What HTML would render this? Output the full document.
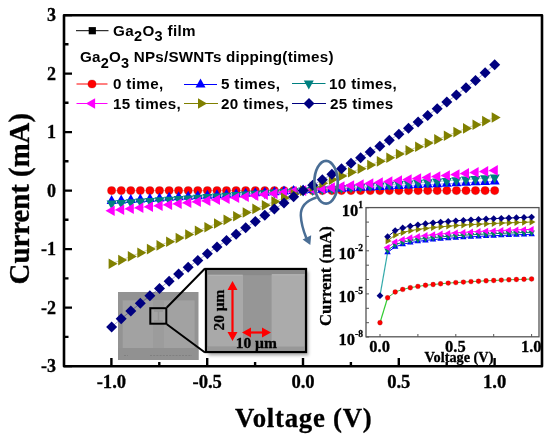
<!DOCTYPE html><html><head><meta charset="utf-8"><style>html,body{margin:0;padding:0;background:#fff;width:550px;height:442px;overflow:hidden}svg{display:block;will-change:transform}.s{font-family:"Liberation Serif",serif;font-weight:bold;stroke:#000;stroke-width:0.3px}.a{font-family:"Liberation Sans",sans-serif;font-weight:bold}</style></head><body>
<svg width="550" height="442" viewBox="0 0 550 442">
<rect width="550" height="442" fill="#fff"/>
<g>
<rect x="118" y="292" width="80.5" height="68" fill="#939393"/>
<rect x="122.5" y="300" width="72" height="48" fill="#9c9c9c"/>
<rect x="123" y="301" width="30" height="47" fill="#a2a2a2"/>
<rect x="164" y="301" width="30.5" height="47" fill="#a2a2a2"/>
<rect x="118" y="348" width="80.5" height="12" fill="#919191"/>
<path d="M124 355.5h4M150 355.5h42" stroke="#808080" stroke-width="1.2" stroke-dasharray="2 1.2"/>
<rect x="150.3" y="308.2" width="16" height="15.5" fill="#a4a4a4" stroke="#000" stroke-width="2"/>
<path d="M154 311h9M158.5 311v10M154 321h9" stroke="#959595" stroke-width="1.5" fill="none"/>
<path d="M166.8 307.5L205 268.5M166.8 324.2L205 352.5" stroke="#000" stroke-width="2" fill="none"/>
</g>
<g>
<defs><filter id="sh" x="-20%" y="-20%" width="140%" height="140%"><feGaussianBlur stdDeviation="1.8"/></filter></defs>
<rect x="208.5" y="271.5" width="100" height="84" fill="#b0b0b0" filter="url(#sh)"/>
<rect x="206" y="269" width="100" height="83" fill="#969696" stroke="#000" stroke-width="2.3"/>
<rect x="207.2" y="270.2" width="97.6" height="5" fill="#8a8a8a"/>
<rect x="207.5" y="274.8" width="35.5" height="71.8" fill="#a9a9a9"/>
<rect x="271.6" y="274.3" width="33" height="72.5" fill="#ababab"/>
<path d="M208 275.3H242.5M272 274.8H304.5" stroke="#b5b5b5" stroke-width="1"/>
<rect x="207.2" y="346.8" width="97.6" height="4" fill="#989898"/>
</g>
<g fill="#ff0000" stroke="#ff0000">
<path d="M232.5 287V335" stroke-width="2.2"/>
<path d="M232.5 281L227.5 290L237.5 290Z M232.5 341L227.5 332L237.5 332Z" stroke="none"/>
<path d="M248 332.5H265" stroke-width="2.2"/>
<path d="M242 332.5L251 327.5L251 337.5Z M271 332.5L262 327.5L262 337.5Z" stroke="none"/>
</g>
<text class="s" font-size="15.4" transform="translate(223.6 330.5) rotate(-90)" fill="#000">20 µm</text>
<text class="s" font-size="15.5" x="235.7" y="348.2" fill="#000">10 µm</text>
<path d="M64 15.2H542V366.2H64Z" fill="none" stroke="#000" stroke-width="2.6" stroke-linejoin="round"/>
<path d="M64 366.1H72 M64 307.6H72 M64 249.1H72 M64 190.6H72 M64 132.1H72 M64 73.6H72 M64 15.1H72 M64 336.9H68.5 M64 278.4H68.5 M64 219.8H68.5 M64 161.3H68.5 M64 102.8H68.5 M64 44.3H68.5 M111.4 366.2V358 M159.3 366.2V362 M207.2 366.2V358 M255.1 366.2V362 M303.0 366.2V358 M350.9 366.2V362 M398.8 366.2V358 M446.7 366.2V362 M494.6 366.2V358" stroke="#000" stroke-width="2.4" fill="none"/>
<text class="s" font-size="18" text-anchor="end" x="56" y="372.0">-3</text>
<text class="s" font-size="18" text-anchor="end" x="56" y="313.5">-2</text>
<text class="s" font-size="18" text-anchor="end" x="56" y="255.0">-1</text>
<text class="s" font-size="18" text-anchor="end" x="56" y="196.5">0</text>
<text class="s" font-size="18" text-anchor="end" x="56" y="138.0">1</text>
<text class="s" font-size="18" text-anchor="end" x="56" y="79.5">2</text>
<text class="s" font-size="18" text-anchor="end" x="56" y="21.0">3</text>
<text class="s" font-size="18.6" text-anchor="middle" x="111.4" y="388">-1.0</text>
<text class="s" font-size="18.6" text-anchor="middle" x="207.2" y="388">-0.5</text>
<text class="s" font-size="18.6" text-anchor="middle" x="303.0" y="388">0.0</text>
<text class="s" font-size="18.6" text-anchor="middle" x="398.8" y="388">0.5</text>
<text class="s" font-size="18.6" text-anchor="middle" x="494.6" y="388">1.0</text>
<text class="s" font-size="28.8" transform="translate(28.8 284.4) rotate(-90)">Current (mA)</text>
<text class="s" font-size="26.8" letter-spacing="0.75" x="235" y="427.3">Voltage (V)</text>
<path d="M111.6 190.6 L121.2 190.6 L130.8 190.6 L140.3 190.6 L149.9 190.6 L159.5 190.6 L169.1 190.6 L178.6 190.6 L188.2 190.6 L197.8 190.6 L207.4 190.6 L217.0 190.6 L226.5 190.6 L236.1 190.6 L245.7 190.6 L255.3 190.6 L264.8 190.6 L274.4 190.6 L284.0 190.6 L293.6 190.6 L303.1 190.6 L312.7 190.6 L322.3 190.6 L331.9 190.6 L341.5 190.6 L351.0 190.6 L360.6 190.6 L370.2 190.6 L379.8 190.6 L389.3 190.6 L398.9 190.6 L408.5 190.6 L418.1 190.6 L427.7 190.6 L437.2 190.6 L446.8 190.6 L456.4 190.6 L466.0 190.6 L475.5 190.6 L485.1 190.6 L494.7 190.6" stroke="#ff0000" stroke-opacity="0.45" stroke-width="0.8" fill="none"/>
<circle cx="111.6" cy="190.6" r="4.10" fill="#ff0000" stroke="#700" stroke-opacity="0.35" stroke-width="0.6"/>
<circle cx="121.2" cy="190.6" r="4.10" fill="#ff0000" stroke="#700" stroke-opacity="0.35" stroke-width="0.6"/>
<circle cx="130.8" cy="190.6" r="4.10" fill="#ff0000" stroke="#700" stroke-opacity="0.35" stroke-width="0.6"/>
<circle cx="140.3" cy="190.6" r="4.10" fill="#ff0000" stroke="#700" stroke-opacity="0.35" stroke-width="0.6"/>
<circle cx="149.9" cy="190.6" r="4.10" fill="#ff0000" stroke="#700" stroke-opacity="0.35" stroke-width="0.6"/>
<circle cx="159.5" cy="190.6" r="4.10" fill="#ff0000" stroke="#700" stroke-opacity="0.35" stroke-width="0.6"/>
<circle cx="169.1" cy="190.6" r="4.10" fill="#ff0000" stroke="#700" stroke-opacity="0.35" stroke-width="0.6"/>
<circle cx="178.6" cy="190.6" r="4.10" fill="#ff0000" stroke="#700" stroke-opacity="0.35" stroke-width="0.6"/>
<circle cx="188.2" cy="190.6" r="4.10" fill="#ff0000" stroke="#700" stroke-opacity="0.35" stroke-width="0.6"/>
<circle cx="197.8" cy="190.6" r="4.10" fill="#ff0000" stroke="#700" stroke-opacity="0.35" stroke-width="0.6"/>
<circle cx="207.4" cy="190.6" r="4.10" fill="#ff0000" stroke="#700" stroke-opacity="0.35" stroke-width="0.6"/>
<circle cx="217.0" cy="190.6" r="4.10" fill="#ff0000" stroke="#700" stroke-opacity="0.35" stroke-width="0.6"/>
<circle cx="226.5" cy="190.6" r="4.10" fill="#ff0000" stroke="#700" stroke-opacity="0.35" stroke-width="0.6"/>
<circle cx="236.1" cy="190.6" r="4.10" fill="#ff0000" stroke="#700" stroke-opacity="0.35" stroke-width="0.6"/>
<circle cx="245.7" cy="190.6" r="4.10" fill="#ff0000" stroke="#700" stroke-opacity="0.35" stroke-width="0.6"/>
<circle cx="255.3" cy="190.6" r="4.10" fill="#ff0000" stroke="#700" stroke-opacity="0.35" stroke-width="0.6"/>
<circle cx="264.8" cy="190.6" r="4.10" fill="#ff0000" stroke="#700" stroke-opacity="0.35" stroke-width="0.6"/>
<circle cx="274.4" cy="190.6" r="4.10" fill="#ff0000" stroke="#700" stroke-opacity="0.35" stroke-width="0.6"/>
<circle cx="284.0" cy="190.6" r="4.10" fill="#ff0000" stroke="#700" stroke-opacity="0.35" stroke-width="0.6"/>
<circle cx="293.6" cy="190.6" r="4.10" fill="#ff0000" stroke="#700" stroke-opacity="0.35" stroke-width="0.6"/>
<circle cx="303.1" cy="190.6" r="4.10" fill="#ff0000" stroke="#700" stroke-opacity="0.35" stroke-width="0.6"/>
<circle cx="312.7" cy="190.6" r="4.10" fill="#ff0000" stroke="#700" stroke-opacity="0.35" stroke-width="0.6"/>
<circle cx="322.3" cy="190.6" r="4.10" fill="#ff0000" stroke="#700" stroke-opacity="0.35" stroke-width="0.6"/>
<circle cx="331.9" cy="190.6" r="4.10" fill="#ff0000" stroke="#700" stroke-opacity="0.35" stroke-width="0.6"/>
<circle cx="341.5" cy="190.6" r="4.10" fill="#ff0000" stroke="#700" stroke-opacity="0.35" stroke-width="0.6"/>
<circle cx="351.0" cy="190.6" r="4.10" fill="#ff0000" stroke="#700" stroke-opacity="0.35" stroke-width="0.6"/>
<circle cx="360.6" cy="190.6" r="4.10" fill="#ff0000" stroke="#700" stroke-opacity="0.35" stroke-width="0.6"/>
<circle cx="370.2" cy="190.6" r="4.10" fill="#ff0000" stroke="#700" stroke-opacity="0.35" stroke-width="0.6"/>
<circle cx="379.8" cy="190.6" r="4.10" fill="#ff0000" stroke="#700" stroke-opacity="0.35" stroke-width="0.6"/>
<circle cx="389.3" cy="190.6" r="4.10" fill="#ff0000" stroke="#700" stroke-opacity="0.35" stroke-width="0.6"/>
<circle cx="398.9" cy="190.6" r="4.10" fill="#ff0000" stroke="#700" stroke-opacity="0.35" stroke-width="0.6"/>
<circle cx="408.5" cy="190.6" r="4.10" fill="#ff0000" stroke="#700" stroke-opacity="0.35" stroke-width="0.6"/>
<circle cx="418.1" cy="190.6" r="4.10" fill="#ff0000" stroke="#700" stroke-opacity="0.35" stroke-width="0.6"/>
<circle cx="427.7" cy="190.6" r="4.10" fill="#ff0000" stroke="#700" stroke-opacity="0.35" stroke-width="0.6"/>
<circle cx="437.2" cy="190.6" r="4.10" fill="#ff0000" stroke="#700" stroke-opacity="0.35" stroke-width="0.6"/>
<circle cx="446.8" cy="190.6" r="4.10" fill="#ff0000" stroke="#700" stroke-opacity="0.35" stroke-width="0.6"/>
<circle cx="456.4" cy="190.6" r="4.10" fill="#ff0000" stroke="#700" stroke-opacity="0.35" stroke-width="0.6"/>
<circle cx="466.0" cy="190.6" r="4.10" fill="#ff0000" stroke="#700" stroke-opacity="0.35" stroke-width="0.6"/>
<circle cx="475.5" cy="190.6" r="4.10" fill="#ff0000" stroke="#700" stroke-opacity="0.35" stroke-width="0.6"/>
<circle cx="485.1" cy="190.6" r="4.10" fill="#ff0000" stroke="#700" stroke-opacity="0.35" stroke-width="0.6"/>
<circle cx="494.7" cy="190.6" r="4.10" fill="#ff0000" stroke="#700" stroke-opacity="0.35" stroke-width="0.6"/>
<path d="M111.6 201.0 L121.2 200.4 L130.8 199.9 L140.3 199.4 L149.9 198.9 L159.5 198.4 L169.1 197.8 L178.6 197.3 L188.2 196.8 L197.8 196.3 L207.4 195.8 L217.0 195.3 L226.5 194.7 L236.1 194.2 L245.7 193.7 L255.3 193.2 L264.8 192.7 L274.4 192.2 L284.0 191.6 L293.6 191.1 L303.1 190.6 L312.7 190.1 L322.3 189.7 L331.9 189.2 L341.5 188.8 L351.0 188.3 L360.6 187.8 L370.2 187.4 L379.8 186.9 L389.3 186.5 L398.9 186.0 L408.5 185.5 L418.1 185.1 L427.7 184.6 L437.2 184.2 L446.8 183.7 L456.4 183.3 L466.0 182.8 L475.5 182.3 L485.1 181.9 L494.7 181.4" stroke="#0000ff" stroke-opacity="0.45" stroke-width="0.8" fill="none"/>
<path d="M111.6 195.0L116.6 204.0L106.6 204.0Z" fill="#0000ff"/>
<path d="M121.2 194.4L126.2 203.4L116.2 203.4Z" fill="#0000ff"/>
<path d="M130.8 193.9L135.8 202.9L125.8 202.9Z" fill="#0000ff"/>
<path d="M140.3 193.4L145.3 202.4L135.3 202.4Z" fill="#0000ff"/>
<path d="M149.9 192.9L154.9 201.9L144.9 201.9Z" fill="#0000ff"/>
<path d="M159.5 192.4L164.5 201.4L154.5 201.4Z" fill="#0000ff"/>
<path d="M169.1 191.8L174.1 200.8L164.1 200.8Z" fill="#0000ff"/>
<path d="M178.6 191.3L183.6 200.3L173.6 200.3Z" fill="#0000ff"/>
<path d="M188.2 190.8L193.2 199.8L183.2 199.8Z" fill="#0000ff"/>
<path d="M197.8 190.3L202.8 199.3L192.8 199.3Z" fill="#0000ff"/>
<path d="M207.4 189.8L212.4 198.8L202.4 198.8Z" fill="#0000ff"/>
<path d="M217.0 189.3L222.0 198.3L212.0 198.3Z" fill="#0000ff"/>
<path d="M226.5 188.7L231.5 197.7L221.5 197.7Z" fill="#0000ff"/>
<path d="M236.1 188.2L241.1 197.2L231.1 197.2Z" fill="#0000ff"/>
<path d="M245.7 187.7L250.7 196.7L240.7 196.7Z" fill="#0000ff"/>
<path d="M255.3 187.2L260.3 196.2L250.3 196.2Z" fill="#0000ff"/>
<path d="M264.8 186.7L269.8 195.7L259.8 195.7Z" fill="#0000ff"/>
<path d="M274.4 186.2L279.4 195.2L269.4 195.2Z" fill="#0000ff"/>
<path d="M284.0 185.6L289.0 194.6L279.0 194.6Z" fill="#0000ff"/>
<path d="M293.6 185.1L298.6 194.1L288.6 194.1Z" fill="#0000ff"/>
<path d="M303.1 184.6L308.1 193.6L298.1 193.6Z" fill="#0000ff"/>
<path d="M312.7 184.1L317.7 193.1L307.7 193.1Z" fill="#0000ff"/>
<path d="M322.3 183.7L327.3 192.7L317.3 192.7Z" fill="#0000ff"/>
<path d="M331.9 183.2L336.9 192.2L326.9 192.2Z" fill="#0000ff"/>
<path d="M341.5 182.8L346.5 191.8L336.5 191.8Z" fill="#0000ff"/>
<path d="M351.0 182.3L356.0 191.3L346.0 191.3Z" fill="#0000ff"/>
<path d="M360.6 181.8L365.6 190.8L355.6 190.8Z" fill="#0000ff"/>
<path d="M370.2 181.4L375.2 190.4L365.2 190.4Z" fill="#0000ff"/>
<path d="M379.8 180.9L384.8 189.9L374.8 189.9Z" fill="#0000ff"/>
<path d="M389.3 180.5L394.3 189.5L384.3 189.5Z" fill="#0000ff"/>
<path d="M398.9 180.0L403.9 189.0L393.9 189.0Z" fill="#0000ff"/>
<path d="M408.5 179.5L413.5 188.5L403.5 188.5Z" fill="#0000ff"/>
<path d="M418.1 179.1L423.1 188.1L413.1 188.1Z" fill="#0000ff"/>
<path d="M427.7 178.6L432.7 187.6L422.7 187.6Z" fill="#0000ff"/>
<path d="M437.2 178.2L442.2 187.2L432.2 187.2Z" fill="#0000ff"/>
<path d="M446.8 177.7L451.8 186.7L441.8 186.7Z" fill="#0000ff"/>
<path d="M456.4 177.3L461.4 186.3L451.4 186.3Z" fill="#0000ff"/>
<path d="M466.0 176.8L471.0 185.8L461.0 185.8Z" fill="#0000ff"/>
<path d="M475.5 176.3L480.5 185.3L470.5 185.3Z" fill="#0000ff"/>
<path d="M485.1 175.9L490.1 184.9L480.1 184.9Z" fill="#0000ff"/>
<path d="M494.7 175.4L499.7 184.4L489.7 184.4Z" fill="#0000ff"/>
<path d="M111.6 203.6 L121.2 202.9 L130.8 202.3 L140.3 201.6 L149.9 201.0 L159.5 200.3 L169.1 199.7 L178.6 199.0 L188.2 198.4 L197.8 197.7 L207.4 197.1 L217.0 196.4 L226.5 195.8 L236.1 195.1 L245.7 194.5 L255.3 193.8 L264.8 193.2 L274.4 192.5 L284.0 191.9 L293.6 191.2 L303.1 190.6 L312.7 190.0 L322.3 189.3 L331.9 188.7 L341.5 188.0 L351.0 187.4 L360.6 186.7 L370.2 186.1 L379.8 185.4 L389.3 184.8 L398.9 184.1 L408.5 183.5 L418.1 182.8 L427.7 182.2 L437.2 181.5 L446.8 180.9 L456.4 180.2 L466.0 179.6 L475.5 178.9 L485.1 178.3 L494.7 177.6" stroke="#008080" stroke-opacity="0.45" stroke-width="0.8" fill="none"/>
<path d="M111.6 209.6L116.6 200.6L106.6 200.6Z" fill="#008080"/>
<path d="M121.2 208.9L126.2 199.9L116.2 199.9Z" fill="#008080"/>
<path d="M130.8 208.3L135.8 199.3L125.8 199.3Z" fill="#008080"/>
<path d="M140.3 207.6L145.3 198.6L135.3 198.6Z" fill="#008080"/>
<path d="M149.9 207.0L154.9 198.0L144.9 198.0Z" fill="#008080"/>
<path d="M159.5 206.3L164.5 197.3L154.5 197.3Z" fill="#008080"/>
<path d="M169.1 205.7L174.1 196.7L164.1 196.7Z" fill="#008080"/>
<path d="M178.6 205.0L183.6 196.0L173.6 196.0Z" fill="#008080"/>
<path d="M188.2 204.4L193.2 195.4L183.2 195.4Z" fill="#008080"/>
<path d="M197.8 203.7L202.8 194.7L192.8 194.7Z" fill="#008080"/>
<path d="M207.4 203.1L212.4 194.1L202.4 194.1Z" fill="#008080"/>
<path d="M217.0 202.4L222.0 193.4L212.0 193.4Z" fill="#008080"/>
<path d="M226.5 201.8L231.5 192.8L221.5 192.8Z" fill="#008080"/>
<path d="M236.1 201.1L241.1 192.1L231.1 192.1Z" fill="#008080"/>
<path d="M245.7 200.5L250.7 191.5L240.7 191.5Z" fill="#008080"/>
<path d="M255.3 199.8L260.3 190.8L250.3 190.8Z" fill="#008080"/>
<path d="M264.8 199.2L269.8 190.2L259.8 190.2Z" fill="#008080"/>
<path d="M274.4 198.5L279.4 189.5L269.4 189.5Z" fill="#008080"/>
<path d="M284.0 197.9L289.0 188.9L279.0 188.9Z" fill="#008080"/>
<path d="M293.6 197.2L298.6 188.2L288.6 188.2Z" fill="#008080"/>
<path d="M303.1 196.6L308.1 187.6L298.1 187.6Z" fill="#008080"/>
<path d="M312.7 196.0L317.7 187.0L307.7 187.0Z" fill="#008080"/>
<path d="M322.3 195.3L327.3 186.3L317.3 186.3Z" fill="#008080"/>
<path d="M331.9 194.7L336.9 185.7L326.9 185.7Z" fill="#008080"/>
<path d="M341.5 194.0L346.5 185.0L336.5 185.0Z" fill="#008080"/>
<path d="M351.0 193.4L356.0 184.4L346.0 184.4Z" fill="#008080"/>
<path d="M360.6 192.7L365.6 183.7L355.6 183.7Z" fill="#008080"/>
<path d="M370.2 192.1L375.2 183.1L365.2 183.1Z" fill="#008080"/>
<path d="M379.8 191.4L384.8 182.4L374.8 182.4Z" fill="#008080"/>
<path d="M389.3 190.8L394.3 181.8L384.3 181.8Z" fill="#008080"/>
<path d="M398.9 190.1L403.9 181.1L393.9 181.1Z" fill="#008080"/>
<path d="M408.5 189.5L413.5 180.5L403.5 180.5Z" fill="#008080"/>
<path d="M418.1 188.8L423.1 179.8L413.1 179.8Z" fill="#008080"/>
<path d="M427.7 188.2L432.7 179.2L422.7 179.2Z" fill="#008080"/>
<path d="M437.2 187.5L442.2 178.5L432.2 178.5Z" fill="#008080"/>
<path d="M446.8 186.9L451.8 177.9L441.8 177.9Z" fill="#008080"/>
<path d="M456.4 186.2L461.4 177.2L451.4 177.2Z" fill="#008080"/>
<path d="M466.0 185.6L471.0 176.6L461.0 176.6Z" fill="#008080"/>
<path d="M475.5 184.9L480.5 175.9L470.5 175.9Z" fill="#008080"/>
<path d="M485.1 184.3L490.1 175.3L480.1 175.3Z" fill="#008080"/>
<path d="M494.7 183.6L499.7 174.6L489.7 174.6Z" fill="#008080"/>
<path d="M111.6 210.8 L121.2 209.8 L130.8 208.8 L140.3 207.8 L149.9 206.7 L159.5 205.7 L169.1 204.7 L178.6 203.7 L188.2 202.7 L197.8 201.7 L207.4 200.7 L217.0 199.7 L226.5 198.7 L236.1 197.7 L245.7 196.7 L255.3 195.6 L264.8 194.6 L274.4 193.6 L284.0 192.6 L293.6 191.6 L303.1 190.6 L312.7 189.6 L322.3 188.6 L331.9 187.6 L341.5 186.6 L351.0 185.6 L360.6 184.5 L370.2 183.5 L379.8 182.5 L389.3 181.5 L398.9 180.5 L408.5 179.5 L418.1 178.5 L427.7 177.5 L437.2 176.5 L446.8 175.5 L456.4 174.5 L466.0 173.4 L475.5 172.4 L485.1 171.4 L494.7 170.4" stroke="#ff00ff" stroke-opacity="0.45" stroke-width="0.8" fill="none"/>
<path d="M105.5 210.8L114.7 205.5L114.7 216.1Z" fill="#ff00ff"/>
<path d="M115.0 209.8L124.2 204.5L124.2 215.1Z" fill="#ff00ff"/>
<path d="M124.6 208.8L133.8 203.5L133.8 214.1Z" fill="#ff00ff"/>
<path d="M134.2 207.8L143.4 202.5L143.4 213.1Z" fill="#ff00ff"/>
<path d="M143.8 206.7L153.0 201.4L153.0 212.0Z" fill="#ff00ff"/>
<path d="M153.4 205.7L162.6 200.4L162.6 211.0Z" fill="#ff00ff"/>
<path d="M162.9 204.7L172.1 199.4L172.1 210.0Z" fill="#ff00ff"/>
<path d="M172.5 203.7L181.7 198.4L181.7 209.0Z" fill="#ff00ff"/>
<path d="M182.1 202.7L191.3 197.4L191.3 208.0Z" fill="#ff00ff"/>
<path d="M191.7 201.7L200.9 196.4L200.9 207.0Z" fill="#ff00ff"/>
<path d="M201.2 200.7L210.4 195.4L210.4 206.0Z" fill="#ff00ff"/>
<path d="M210.8 199.7L220.0 194.4L220.0 205.0Z" fill="#ff00ff"/>
<path d="M220.4 198.7L229.6 193.4L229.6 204.0Z" fill="#ff00ff"/>
<path d="M230.0 197.7L239.2 192.4L239.2 203.0Z" fill="#ff00ff"/>
<path d="M239.6 196.7L248.8 191.4L248.8 202.0Z" fill="#ff00ff"/>
<path d="M249.1 195.6L258.3 190.3L258.3 200.9Z" fill="#ff00ff"/>
<path d="M258.7 194.6L267.9 189.3L267.9 199.9Z" fill="#ff00ff"/>
<path d="M268.3 193.6L277.5 188.3L277.5 198.9Z" fill="#ff00ff"/>
<path d="M277.9 192.6L287.1 187.3L287.1 197.9Z" fill="#ff00ff"/>
<path d="M287.4 191.6L296.6 186.3L296.6 196.9Z" fill="#ff00ff"/>
<path d="M297.0 190.6L306.2 185.3L306.2 195.9Z" fill="#ff00ff"/>
<path d="M306.6 189.6L315.8 184.3L315.8 194.9Z" fill="#ff00ff"/>
<path d="M316.2 188.6L325.4 183.3L325.4 193.9Z" fill="#ff00ff"/>
<path d="M325.7 187.6L334.9 182.3L334.9 192.9Z" fill="#ff00ff"/>
<path d="M335.3 186.6L344.5 181.3L344.5 191.9Z" fill="#ff00ff"/>
<path d="M344.9 185.6L354.1 180.3L354.1 190.9Z" fill="#ff00ff"/>
<path d="M354.5 184.5L363.7 179.2L363.7 189.8Z" fill="#ff00ff"/>
<path d="M364.1 183.5L373.3 178.2L373.3 188.8Z" fill="#ff00ff"/>
<path d="M373.6 182.5L382.8 177.2L382.8 187.8Z" fill="#ff00ff"/>
<path d="M383.2 181.5L392.4 176.2L392.4 186.8Z" fill="#ff00ff"/>
<path d="M392.8 180.5L402.0 175.2L402.0 185.8Z" fill="#ff00ff"/>
<path d="M402.4 179.5L411.6 174.2L411.6 184.8Z" fill="#ff00ff"/>
<path d="M411.9 178.5L421.1 173.2L421.1 183.8Z" fill="#ff00ff"/>
<path d="M421.5 177.5L430.7 172.2L430.7 182.8Z" fill="#ff00ff"/>
<path d="M431.1 176.5L440.3 171.2L440.3 181.8Z" fill="#ff00ff"/>
<path d="M440.7 175.5L449.9 170.2L449.9 180.8Z" fill="#ff00ff"/>
<path d="M450.3 174.5L459.5 169.2L459.5 179.8Z" fill="#ff00ff"/>
<path d="M459.8 173.4L469.0 168.1L469.0 178.7Z" fill="#ff00ff"/>
<path d="M469.4 172.4L478.6 167.1L478.6 177.7Z" fill="#ff00ff"/>
<path d="M479.0 171.4L488.2 166.1L488.2 176.7Z" fill="#ff00ff"/>
<path d="M488.6 170.4L497.8 165.1L497.8 175.7Z" fill="#ff00ff"/>
<path d="M111.6 263.7 L121.2 260.1 L130.8 256.4 L140.3 252.8 L149.9 249.1 L159.5 245.4 L169.1 241.8 L178.6 238.1 L188.2 234.5 L197.8 230.8 L207.4 227.2 L217.0 223.5 L226.5 219.8 L236.1 216.2 L245.7 212.5 L255.3 208.9 L264.8 205.2 L274.4 201.6 L284.0 197.9 L293.6 194.3 L303.1 190.6 L312.7 186.9 L322.3 183.3 L331.9 179.6 L341.5 176.0 L351.0 172.3 L360.6 168.7 L370.2 165.0 L379.8 161.3 L389.3 157.7 L398.9 154.0 L408.5 150.4 L418.1 146.7 L427.7 143.1 L437.2 139.4 L446.8 135.8 L456.4 132.1 L466.0 128.4 L475.5 124.8 L485.1 121.1 L494.7 117.5" stroke="#808000" stroke-opacity="0.45" stroke-width="0.8" fill="none"/>
<path d="M117.6 263.7L108.6 258.4L108.6 269.0Z" fill="#808000"/>
<path d="M127.2 260.1L118.2 254.8L118.2 265.4Z" fill="#808000"/>
<path d="M136.8 256.4L127.8 251.1L127.8 261.7Z" fill="#808000"/>
<path d="M146.3 252.8L137.3 247.5L137.3 258.1Z" fill="#808000"/>
<path d="M155.9 249.1L146.9 243.8L146.9 254.4Z" fill="#808000"/>
<path d="M165.5 245.4L156.5 240.1L156.5 250.7Z" fill="#808000"/>
<path d="M175.1 241.8L166.1 236.5L166.1 247.1Z" fill="#808000"/>
<path d="M184.6 238.1L175.6 232.8L175.6 243.4Z" fill="#808000"/>
<path d="M194.2 234.5L185.2 229.2L185.2 239.8Z" fill="#808000"/>
<path d="M203.8 230.8L194.8 225.5L194.8 236.1Z" fill="#808000"/>
<path d="M213.4 227.2L204.4 221.9L204.4 232.5Z" fill="#808000"/>
<path d="M223.0 223.5L214.0 218.2L214.0 228.8Z" fill="#808000"/>
<path d="M232.5 219.8L223.5 214.5L223.5 225.2Z" fill="#808000"/>
<path d="M242.1 216.2L233.1 210.9L233.1 221.5Z" fill="#808000"/>
<path d="M251.7 212.5L242.7 207.2L242.7 217.8Z" fill="#808000"/>
<path d="M261.3 208.9L252.3 203.6L252.3 214.2Z" fill="#808000"/>
<path d="M270.8 205.2L261.8 199.9L261.8 210.5Z" fill="#808000"/>
<path d="M280.4 201.6L271.4 196.3L271.4 206.9Z" fill="#808000"/>
<path d="M290.0 197.9L281.0 192.6L281.0 203.2Z" fill="#808000"/>
<path d="M299.6 194.3L290.6 189.0L290.6 199.6Z" fill="#808000"/>
<path d="M309.1 190.6L300.1 185.3L300.1 195.9Z" fill="#808000"/>
<path d="M318.7 186.9L309.7 181.6L309.7 192.2Z" fill="#808000"/>
<path d="M328.3 183.3L319.3 178.0L319.3 188.6Z" fill="#808000"/>
<path d="M337.9 179.6L328.9 174.3L328.9 184.9Z" fill="#808000"/>
<path d="M347.5 176.0L338.5 170.7L338.5 181.3Z" fill="#808000"/>
<path d="M357.0 172.3L348.0 167.0L348.0 177.6Z" fill="#808000"/>
<path d="M366.6 168.7L357.6 163.4L357.6 174.0Z" fill="#808000"/>
<path d="M376.2 165.0L367.2 159.7L367.2 170.3Z" fill="#808000"/>
<path d="M385.8 161.3L376.8 156.0L376.8 166.7Z" fill="#808000"/>
<path d="M395.3 157.7L386.3 152.4L386.3 163.0Z" fill="#808000"/>
<path d="M404.9 154.0L395.9 148.7L395.9 159.3Z" fill="#808000"/>
<path d="M414.5 150.4L405.5 145.1L405.5 155.7Z" fill="#808000"/>
<path d="M424.1 146.7L415.1 141.4L415.1 152.0Z" fill="#808000"/>
<path d="M433.7 143.1L424.7 137.8L424.7 148.4Z" fill="#808000"/>
<path d="M443.2 139.4L434.2 134.1L434.2 144.7Z" fill="#808000"/>
<path d="M452.8 135.8L443.8 130.5L443.8 141.1Z" fill="#808000"/>
<path d="M462.4 132.1L453.4 126.8L453.4 137.4Z" fill="#808000"/>
<path d="M472.0 128.4L463.0 123.1L463.0 133.7Z" fill="#808000"/>
<path d="M481.5 124.8L472.5 119.5L472.5 130.1Z" fill="#808000"/>
<path d="M491.1 121.1L482.1 115.8L482.1 126.4Z" fill="#808000"/>
<path d="M500.7 117.5L491.7 112.2L491.7 122.8Z" fill="#808000"/>
<path d="M111.6 326.9 L121.2 318.8 L130.8 311.0 L140.3 303.3 L149.9 295.8 L159.5 288.4 L169.1 281.2 L178.6 274.1 L188.2 267.2 L197.8 260.4 L207.4 253.7 L217.0 247.1 L226.5 240.6 L236.1 234.2 L245.7 227.8 L255.3 221.5 L264.8 215.3 L274.4 209.1 L284.0 202.9 L293.6 196.7 L303.1 190.6 L312.7 185.2 L322.3 179.8 L331.9 174.3 L341.5 168.8 L351.0 163.3 L360.6 157.7 L370.2 152.0 L379.8 146.2 L389.3 140.3 L398.9 134.3 L408.5 128.2 L418.1 121.9 L427.7 115.4 L437.2 108.8 L446.8 102.0 L456.4 95.0 L466.0 87.8 L475.5 80.4 L485.1 72.7 L494.7 64.8" stroke="#000080" stroke-opacity="0.45" stroke-width="0.8" fill="none"/>
<path d="M111.6 321.4L117.1 326.9L111.6 332.4L106.1 326.9Z" fill="#000080"/>
<path d="M121.2 313.3L126.7 318.8L121.2 324.3L115.7 318.8Z" fill="#000080"/>
<path d="M130.8 305.5L136.3 311.0L130.8 316.5L125.3 311.0Z" fill="#000080"/>
<path d="M140.3 297.8L145.8 303.3L140.3 308.8L134.8 303.3Z" fill="#000080"/>
<path d="M149.9 290.3L155.4 295.8L149.9 301.3L144.4 295.8Z" fill="#000080"/>
<path d="M159.5 282.9L165.0 288.4L159.5 293.9L154.0 288.4Z" fill="#000080"/>
<path d="M169.1 275.7L174.6 281.2L169.1 286.7L163.6 281.2Z" fill="#000080"/>
<path d="M178.6 268.6L184.1 274.1L178.6 279.6L173.1 274.1Z" fill="#000080"/>
<path d="M188.2 261.7L193.7 267.2L188.2 272.7L182.7 267.2Z" fill="#000080"/>
<path d="M197.8 254.9L203.3 260.4L197.8 265.9L192.3 260.4Z" fill="#000080"/>
<path d="M207.4 248.2L212.9 253.7L207.4 259.2L201.9 253.7Z" fill="#000080"/>
<path d="M217.0 241.6L222.5 247.1L217.0 252.6L211.5 247.1Z" fill="#000080"/>
<path d="M226.5 235.1L232.0 240.6L226.5 246.1L221.0 240.6Z" fill="#000080"/>
<path d="M236.1 228.7L241.6 234.2L236.1 239.7L230.6 234.2Z" fill="#000080"/>
<path d="M245.7 222.3L251.2 227.8L245.7 233.3L240.2 227.8Z" fill="#000080"/>
<path d="M255.3 216.0L260.8 221.5L255.3 227.0L249.8 221.5Z" fill="#000080"/>
<path d="M264.8 209.8L270.3 215.3L264.8 220.8L259.3 215.3Z" fill="#000080"/>
<path d="M274.4 203.6L279.9 209.1L274.4 214.6L268.9 209.1Z" fill="#000080"/>
<path d="M284.0 197.4L289.5 202.9L284.0 208.4L278.5 202.9Z" fill="#000080"/>
<path d="M293.6 191.2L299.1 196.7L293.6 202.2L288.1 196.7Z" fill="#000080"/>
<path d="M303.1 185.1L308.6 190.6L303.1 196.1L297.6 190.6Z" fill="#000080"/>
<path d="M312.7 179.7L318.2 185.2L312.7 190.7L307.2 185.2Z" fill="#000080"/>
<path d="M322.3 174.3L327.8 179.8L322.3 185.3L316.8 179.8Z" fill="#000080"/>
<path d="M331.9 168.8L337.4 174.3L331.9 179.8L326.4 174.3Z" fill="#000080"/>
<path d="M341.5 163.3L347.0 168.8L341.5 174.3L336.0 168.8Z" fill="#000080"/>
<path d="M351.0 157.8L356.5 163.3L351.0 168.8L345.5 163.3Z" fill="#000080"/>
<path d="M360.6 152.2L366.1 157.7L360.6 163.2L355.1 157.7Z" fill="#000080"/>
<path d="M370.2 146.5L375.7 152.0L370.2 157.5L364.7 152.0Z" fill="#000080"/>
<path d="M379.8 140.7L385.3 146.2L379.8 151.7L374.3 146.2Z" fill="#000080"/>
<path d="M389.3 134.8L394.8 140.3L389.3 145.8L383.8 140.3Z" fill="#000080"/>
<path d="M398.9 128.8L404.4 134.3L398.9 139.8L393.4 134.3Z" fill="#000080"/>
<path d="M408.5 122.7L414.0 128.2L408.5 133.7L403.0 128.2Z" fill="#000080"/>
<path d="M418.1 116.4L423.6 121.9L418.1 127.4L412.6 121.9Z" fill="#000080"/>
<path d="M427.7 109.9L433.2 115.4L427.7 120.9L422.2 115.4Z" fill="#000080"/>
<path d="M437.2 103.3L442.7 108.8L437.2 114.3L431.7 108.8Z" fill="#000080"/>
<path d="M446.8 96.5L452.3 102.0L446.8 107.5L441.3 102.0Z" fill="#000080"/>
<path d="M456.4 89.5L461.9 95.0L456.4 100.5L450.9 95.0Z" fill="#000080"/>
<path d="M466.0 82.3L471.5 87.8L466.0 93.3L460.5 87.8Z" fill="#000080"/>
<path d="M475.5 74.9L481.0 80.4L475.5 85.9L470.0 80.4Z" fill="#000080"/>
<path d="M485.1 67.2L490.6 72.7L485.1 78.2L479.6 72.7Z" fill="#000080"/>
<path d="M494.7 59.3L500.2 64.8L494.7 70.3L489.2 64.8Z" fill="#000080"/>
<ellipse cx="326.05" cy="182.25" rx="11.7" ry="21.4" fill="none" stroke="#4a6e95" stroke-width="2.7"/>
<path d="M316.5 197.5C307 200.5 300.5 206 300.8 215.5C301.2 225 303.5 231 306.3 238" fill="none" stroke="#4a6e95" stroke-width="2.5"/>
<path d="M310.3 245L302.6 239.6L311.2 235.3Z" fill="#4a6e95"/>
<path d="M76 30.7H108.5" stroke="#000" stroke-width="1"/>
<rect x="88.7" y="27.1" width="7.2" height="7.2" fill="#000"/>
<text class="a" font-size="15.2" letter-spacing="0.35" x="113" y="35.5">Ga<tspan font-size="14.5" dy="5.8">2</tspan><tspan dy="-5.8">O</tspan><tspan font-size="14.5" dy="5.8">3</tspan><tspan dy="-5.8"> film</tspan></text>
<text class="a" font-size="15.2" letter-spacing="0.22" x="80" y="62">Ga<tspan font-size="14.5" dy="5.8">2</tspan><tspan dy="-5.8">O</tspan><tspan font-size="14.5" dy="5.8">3</tspan><tspan dy="-5.8"> NPs/SWNTs dipping(times)</tspan></text>
<path d="M76.5 84H107.5" stroke="#ff0000" stroke-width="1"/>
<circle cx="92.0" cy="84.0" r="4.10" fill="#ff0000" stroke="#700" stroke-opacity="0.35" stroke-width="0.6"/>
<text class="a" font-size="15.2" letter-spacing="0.35" x="113" y="88.7">0 time,</text>
<path d="M184 84.5H217" stroke="#0000ff" stroke-width="1"/>
<path d="M200.5 78.5L205.5 87.5L195.5 87.5Z" fill="#0000ff"/>
<text class="a" font-size="15.2" letter-spacing="0.35" x="221" y="88.7">5 times,</text>
<path d="M292 83.5H325.5" stroke="#008080" stroke-width="1"/>
<path d="M308.8 89.5L313.8 80.5L303.8 80.5Z" fill="#008080"/>
<text class="a" font-size="15.2" letter-spacing="0.35" x="329" y="88.7">10 times,</text>
<path d="M76.5 103.5H107.5" stroke="#ff00ff" stroke-width="1"/>
<path d="M85.9 103.5L95.1 98.2L95.1 108.8Z" fill="#ff00ff"/>
<text class="a" font-size="15.2" letter-spacing="0.35" x="113" y="108.5">15 times,</text>
<path d="M184 103.5H218" stroke="#808000" stroke-width="1"/>
<path d="M207.0 103.5L198.0 98.2L198.0 108.8Z" fill="#808000"/>
<text class="a" font-size="15.2" letter-spacing="0.35" x="221" y="108.5">20 times,</text>
<path d="M292 103.5H326" stroke="#000080" stroke-width="1"/>
<path d="M309.0 98.0L314.5 103.5L309.0 109.0L303.5 103.5Z" fill="#000080"/>
<text class="a" font-size="15.2" letter-spacing="0.35" x="330" y="108.5">25 times</text>
<rect x="366" y="207.6" width="173" height="129.2" fill="#fff" stroke="#555" stroke-width="1.3"/>
<path d="M366 207.7H369 M366 222.1H369 M366 236.4H369 M366 250.8H369 M366 265.2H369 M366 279.5H369 M366 293.9H369 M366 308.3H369 M366 322.7H369 M366 337.0H369 M380.0 336.8V334 M417.9 336.8V334 M455.8 336.8V334 M493.7 336.8V334 M531.6 336.8V334" stroke="#555" stroke-width="1" fill="none"/>
<text class="s" font-size="16.5" text-anchor="end" x="363" y="215.5">10<tspan font-size="9.5" dy="-7.8">1</tspan></text>
<text class="s" font-size="16.5" text-anchor="end" x="363" y="258.6">10<tspan font-size="9.5" dy="-7.8">-2</tspan></text>
<text class="s" font-size="16.5" text-anchor="end" x="363" y="301.7">10<tspan font-size="9.5" dy="-7.8">-5</tspan></text>
<text class="s" font-size="16.5" text-anchor="end" x="363" y="344.8">10<tspan font-size="9.5" dy="-7.8">-8</tspan></text>
<text class="s" font-size="16.5" text-anchor="middle" x="379.6" y="351.8">0.0</text>
<text class="s" font-size="16.5" text-anchor="middle" x="455.4" y="351.8">0.5</text>
<text class="s" font-size="16.5" text-anchor="middle" x="531.2" y="351.8">1.0</text>
<text class="s" font-size="16.8" transform="translate(330.5 326) rotate(-90)">Current (mA)</text>
<text class="s" font-size="14.3" x="424.5" y="361.8">Voltage (V)</text>
<path d="M387.6 297.8 L395.2 292.0 L402.7 289.4 L410.3 287.7 L417.9 286.4 L425.5 285.3 L433.1 284.5 L440.6 283.8 L448.2 283.1 L455.8 282.6 L463.4 282.1 L471.0 281.6 L478.5 281.2 L486.1 280.8 L493.7 280.5 L501.3 280.1 L508.9 279.8 L516.4 279.5 L524.0 279.3 L531.6 279.0" stroke="#44bb44" stroke-width="1" fill="none"/>
<path d="M380.0 322.7L387.6 297.8" stroke="#33cc33" stroke-width="1.2" fill="none"/>
<circle cx="380.0" cy="322.7" r="2.46" fill="#ff0000" stroke="#700" stroke-opacity="0.35" stroke-width="0.6"/>
<circle cx="387.6" cy="297.8" r="2.46" fill="#ff0000" stroke="#700" stroke-opacity="0.35" stroke-width="0.6"/>
<circle cx="395.2" cy="292.0" r="2.46" fill="#ff0000" stroke="#700" stroke-opacity="0.35" stroke-width="0.6"/>
<circle cx="402.7" cy="289.4" r="2.46" fill="#ff0000" stroke="#700" stroke-opacity="0.35" stroke-width="0.6"/>
<circle cx="410.3" cy="287.7" r="2.46" fill="#ff0000" stroke="#700" stroke-opacity="0.35" stroke-width="0.6"/>
<circle cx="417.9" cy="286.4" r="2.46" fill="#ff0000" stroke="#700" stroke-opacity="0.35" stroke-width="0.6"/>
<circle cx="425.5" cy="285.3" r="2.46" fill="#ff0000" stroke="#700" stroke-opacity="0.35" stroke-width="0.6"/>
<circle cx="433.1" cy="284.5" r="2.46" fill="#ff0000" stroke="#700" stroke-opacity="0.35" stroke-width="0.6"/>
<circle cx="440.6" cy="283.8" r="2.46" fill="#ff0000" stroke="#700" stroke-opacity="0.35" stroke-width="0.6"/>
<circle cx="448.2" cy="283.1" r="2.46" fill="#ff0000" stroke="#700" stroke-opacity="0.35" stroke-width="0.6"/>
<circle cx="455.8" cy="282.6" r="2.46" fill="#ff0000" stroke="#700" stroke-opacity="0.35" stroke-width="0.6"/>
<circle cx="463.4" cy="282.1" r="2.46" fill="#ff0000" stroke="#700" stroke-opacity="0.35" stroke-width="0.6"/>
<circle cx="471.0" cy="281.6" r="2.46" fill="#ff0000" stroke="#700" stroke-opacity="0.35" stroke-width="0.6"/>
<circle cx="478.5" cy="281.2" r="2.46" fill="#ff0000" stroke="#700" stroke-opacity="0.35" stroke-width="0.6"/>
<circle cx="486.1" cy="280.8" r="2.46" fill="#ff0000" stroke="#700" stroke-opacity="0.35" stroke-width="0.6"/>
<circle cx="493.7" cy="280.5" r="2.46" fill="#ff0000" stroke="#700" stroke-opacity="0.35" stroke-width="0.6"/>
<circle cx="501.3" cy="280.1" r="2.46" fill="#ff0000" stroke="#700" stroke-opacity="0.35" stroke-width="0.6"/>
<circle cx="508.9" cy="279.8" r="2.46" fill="#ff0000" stroke="#700" stroke-opacity="0.35" stroke-width="0.6"/>
<circle cx="516.4" cy="279.5" r="2.46" fill="#ff0000" stroke="#700" stroke-opacity="0.35" stroke-width="0.6"/>
<circle cx="524.0" cy="279.3" r="2.46" fill="#ff0000" stroke="#700" stroke-opacity="0.35" stroke-width="0.6"/>
<circle cx="531.6" cy="279.0" r="2.46" fill="#ff0000" stroke="#700" stroke-opacity="0.35" stroke-width="0.6"/>
<path d="M387.6 252.4 L395.2 246.8 L402.7 244.3 L410.3 242.6 L417.9 241.4 L425.5 240.4 L433.1 239.6 L440.6 238.9 L448.2 238.3 L455.8 237.7 L463.4 237.3 L471.0 236.8 L478.5 236.4 L486.1 236.0 L493.7 235.7 L501.3 235.4 L508.9 235.1 L516.4 234.8 L524.0 234.5 L531.6 234.3" stroke="#0000ff" stroke-width="1" fill="none"/>
<path d="M380.0 295.7L387.6 252.4" stroke="#33aaaa" stroke-width="1.2" fill="none"/>
<path d="M387.6 248.5L390.8 254.3L384.3 254.3Z" fill="#0000ff"/>
<path d="M395.2 242.9L398.4 248.7L391.9 248.7Z" fill="#0000ff"/>
<path d="M402.7 240.4L406.0 246.2L399.5 246.2Z" fill="#0000ff"/>
<path d="M410.3 238.7L413.6 244.6L407.1 244.6Z" fill="#0000ff"/>
<path d="M417.9 237.5L421.1 243.3L414.6 243.3Z" fill="#0000ff"/>
<path d="M425.5 236.5L428.7 242.4L422.2 242.4Z" fill="#0000ff"/>
<path d="M433.1 235.7L436.3 241.5L429.8 241.5Z" fill="#0000ff"/>
<path d="M440.6 235.0L443.9 240.8L437.4 240.8Z" fill="#0000ff"/>
<path d="M448.2 234.4L451.5 240.2L445.0 240.2Z" fill="#0000ff"/>
<path d="M455.8 233.8L459.1 239.7L452.6 239.7Z" fill="#0000ff"/>
<path d="M463.4 233.4L466.6 239.2L460.1 239.2Z" fill="#0000ff"/>
<path d="M471.0 232.9L474.2 238.8L467.7 238.8Z" fill="#0000ff"/>
<path d="M478.5 232.5L481.8 238.4L475.3 238.4Z" fill="#0000ff"/>
<path d="M486.1 232.1L489.4 238.0L482.9 238.0Z" fill="#0000ff"/>
<path d="M493.7 231.8L496.9 237.7L490.4 237.7Z" fill="#0000ff"/>
<path d="M501.3 231.5L504.5 237.3L498.0 237.3Z" fill="#0000ff"/>
<path d="M508.9 231.2L512.1 237.0L505.6 237.0Z" fill="#0000ff"/>
<path d="M516.4 230.9L519.7 236.8L513.2 236.8Z" fill="#0000ff"/>
<path d="M524.0 230.6L527.3 236.5L520.8 236.5Z" fill="#0000ff"/>
<path d="M531.6 230.4L534.9 236.2L528.4 236.2Z" fill="#0000ff"/>
<path d="M387.6 250.3 L395.2 244.7 L402.7 242.2 L410.3 240.6 L417.9 239.4 L425.5 238.4 L433.1 237.6 L440.6 236.9 L448.2 236.3 L455.8 235.7 L463.4 235.2 L471.0 234.8 L478.5 234.4 L486.1 234.0 L493.7 233.7 L501.3 233.4 L508.9 233.1 L516.4 232.8 L524.0 232.5 L531.6 232.3" stroke="#008060" stroke-width="1" fill="none"/>
<path d="M387.6 254.2L390.8 248.4L384.3 248.4Z" fill="#008060"/>
<path d="M395.2 248.6L398.4 242.8L391.9 242.8Z" fill="#008060"/>
<path d="M402.7 246.1L406.0 240.3L399.5 240.3Z" fill="#008060"/>
<path d="M410.3 244.5L413.6 238.6L407.1 238.6Z" fill="#008060"/>
<path d="M417.9 243.3L421.1 237.4L414.6 237.4Z" fill="#008060"/>
<path d="M425.5 242.3L428.7 236.4L422.2 236.4Z" fill="#008060"/>
<path d="M433.1 241.5L436.3 235.6L429.8 235.6Z" fill="#008060"/>
<path d="M440.6 240.8L443.9 234.9L437.4 234.9Z" fill="#008060"/>
<path d="M448.2 240.2L451.5 234.3L445.0 234.3Z" fill="#008060"/>
<path d="M455.8 239.6L459.1 233.8L452.6 233.8Z" fill="#008060"/>
<path d="M463.4 239.1L466.6 233.3L460.1 233.3Z" fill="#008060"/>
<path d="M471.0 238.7L474.2 232.9L467.7 232.9Z" fill="#008060"/>
<path d="M478.5 238.3L481.8 232.5L475.3 232.5Z" fill="#008060"/>
<path d="M486.1 237.9L489.4 232.1L482.9 232.1Z" fill="#008060"/>
<path d="M493.7 237.6L496.9 231.7L490.4 231.7Z" fill="#008060"/>
<path d="M501.3 237.3L504.5 231.4L498.0 231.4Z" fill="#008060"/>
<path d="M508.9 237.0L512.1 231.1L505.6 231.1Z" fill="#008060"/>
<path d="M516.4 236.7L519.7 230.9L513.2 230.9Z" fill="#008060"/>
<path d="M524.0 236.4L527.3 230.6L520.8 230.6Z" fill="#008060"/>
<path d="M531.6 236.2L534.9 230.4L528.4 230.4Z" fill="#008060"/>
<path d="M387.6 247.5 L395.2 241.9 L402.7 239.4 L410.3 237.7 L417.9 236.5 L425.5 235.5 L433.1 234.7 L440.6 234.0 L448.2 233.4 L455.8 232.8 L463.4 232.4 L471.0 231.9 L478.5 231.5 L486.1 231.1 L493.7 230.8 L501.3 230.5 L508.9 230.2 L516.4 229.9 L524.0 229.6 L531.6 229.4" stroke="#ff00ff" stroke-width="1" fill="none"/>
<path d="M383.6 247.5L389.6 244.1L389.6 250.9Z" fill="#ff00ff"/>
<path d="M391.2 241.9L397.2 238.4L397.2 245.3Z" fill="#ff00ff"/>
<path d="M398.8 239.4L404.7 235.9L404.7 242.8Z" fill="#ff00ff"/>
<path d="M406.3 237.7L412.3 234.3L412.3 241.2Z" fill="#ff00ff"/>
<path d="M413.9 236.5L419.9 233.0L419.9 239.9Z" fill="#ff00ff"/>
<path d="M421.5 235.5L427.5 232.1L427.5 238.9Z" fill="#ff00ff"/>
<path d="M429.1 234.7L435.1 231.2L435.1 238.1Z" fill="#ff00ff"/>
<path d="M436.7 234.0L442.6 230.5L442.6 237.4Z" fill="#ff00ff"/>
<path d="M444.2 233.4L450.2 229.9L450.2 236.8Z" fill="#ff00ff"/>
<path d="M451.8 232.8L457.8 229.4L457.8 236.3Z" fill="#ff00ff"/>
<path d="M459.4 232.4L465.4 228.9L465.4 235.8Z" fill="#ff00ff"/>
<path d="M467.0 231.9L473.0 228.5L473.0 235.4Z" fill="#ff00ff"/>
<path d="M474.6 231.5L480.5 228.1L480.5 235.0Z" fill="#ff00ff"/>
<path d="M482.1 231.1L488.1 227.7L488.1 234.6Z" fill="#ff00ff"/>
<path d="M489.7 230.8L495.7 227.4L495.7 234.2Z" fill="#ff00ff"/>
<path d="M497.3 230.5L503.3 227.0L503.3 233.9Z" fill="#ff00ff"/>
<path d="M504.9 230.2L510.9 226.7L510.9 233.6Z" fill="#ff00ff"/>
<path d="M512.5 229.9L518.4 226.5L518.4 233.4Z" fill="#ff00ff"/>
<path d="M520.0 229.6L526.0 226.2L526.0 233.1Z" fill="#ff00ff"/>
<path d="M527.6 229.4L533.6 226.0L533.6 232.8Z" fill="#ff00ff"/>
<path d="M387.6 240.9 L395.2 235.0 L402.7 232.4 L410.3 230.7 L417.9 229.4 L425.5 228.4 L433.1 227.5 L440.6 226.8 L448.2 226.2 L455.8 225.6 L463.4 225.1 L471.0 224.6 L478.5 224.2 L486.1 223.8 L493.7 223.5 L501.3 223.1 L508.9 222.8 L516.4 222.5 L524.0 222.3 L531.6 222.0" stroke="#808000" stroke-width="1" fill="none"/>
<path d="M391.5 240.9L385.6 237.5L385.6 244.3Z" fill="#808000"/>
<path d="M399.1 235.0L393.2 231.6L393.2 238.5Z" fill="#808000"/>
<path d="M406.6 232.4L400.8 229.0L400.8 235.9Z" fill="#808000"/>
<path d="M414.2 230.7L408.4 227.3L408.4 234.1Z" fill="#808000"/>
<path d="M421.8 229.4L415.9 226.0L415.9 232.8Z" fill="#808000"/>
<path d="M429.4 228.4L423.5 224.9L423.5 231.8Z" fill="#808000"/>
<path d="M437.0 227.5L431.1 224.1L431.1 231.0Z" fill="#808000"/>
<path d="M444.5 226.8L438.7 223.3L438.7 230.2Z" fill="#808000"/>
<path d="M452.1 226.2L446.3 222.7L446.3 229.6Z" fill="#808000"/>
<path d="M459.7 225.6L453.9 222.1L453.9 229.0Z" fill="#808000"/>
<path d="M467.3 225.1L461.4 221.6L461.4 228.5Z" fill="#808000"/>
<path d="M474.9 224.6L469.0 221.2L469.0 228.1Z" fill="#808000"/>
<path d="M482.4 224.2L476.6 220.8L476.6 227.7Z" fill="#808000"/>
<path d="M490.0 223.8L484.2 220.4L484.2 227.3Z" fill="#808000"/>
<path d="M497.6 223.5L491.8 220.0L491.8 226.9Z" fill="#808000"/>
<path d="M505.2 223.1L499.3 219.7L499.3 226.6Z" fill="#808000"/>
<path d="M512.8 222.8L506.9 219.4L506.9 226.3Z" fill="#808000"/>
<path d="M520.3 222.5L514.5 219.1L514.5 226.0Z" fill="#808000"/>
<path d="M527.9 222.3L522.1 218.8L522.1 225.7Z" fill="#808000"/>
<path d="M535.5 222.0L529.6 218.6L529.6 225.4Z" fill="#808000"/>
<path d="M387.6 236.7 L395.2 230.6 L402.7 227.9 L410.3 226.1 L417.9 224.8 L425.5 223.7 L433.1 222.8 L440.6 222.1 L448.2 221.4 L455.8 220.8 L463.4 220.3 L471.0 219.8 L478.5 219.4 L486.1 219.0 L493.7 218.6 L501.3 218.3 L508.9 218.0 L516.4 217.7 L524.0 217.4 L531.6 217.1" stroke="#000080" stroke-width="1" fill="none"/>
<path d="M380.0 292.3L383.4 295.7L380.0 299.1L376.6 295.7Z" fill="#000080"/>
<path d="M387.6 233.3L391.0 236.7L387.6 240.1L384.2 236.7Z" fill="#000080"/>
<path d="M395.2 227.2L398.6 230.6L395.2 234.0L391.8 230.6Z" fill="#000080"/>
<path d="M402.7 224.5L406.2 227.9L402.7 231.3L399.3 227.9Z" fill="#000080"/>
<path d="M410.3 222.7L413.7 226.1L410.3 229.5L406.9 226.1Z" fill="#000080"/>
<path d="M417.9 221.4L421.3 224.8L417.9 228.2L414.5 224.8Z" fill="#000080"/>
<path d="M425.5 220.3L428.9 223.7L425.5 227.1L422.1 223.7Z" fill="#000080"/>
<path d="M433.1 219.4L436.5 222.8L433.1 226.2L429.6 222.8Z" fill="#000080"/>
<path d="M440.6 218.7L444.1 222.1L440.6 225.5L437.2 222.1Z" fill="#000080"/>
<path d="M448.2 218.0L451.6 221.4L448.2 224.8L444.8 221.4Z" fill="#000080"/>
<path d="M455.8 217.4L459.2 220.8L455.8 224.2L452.4 220.8Z" fill="#000080"/>
<path d="M463.4 216.9L466.8 220.3L463.4 223.7L460.0 220.3Z" fill="#000080"/>
<path d="M471.0 216.4L474.4 219.8L471.0 223.2L467.5 219.8Z" fill="#000080"/>
<path d="M478.5 216.0L482.0 219.4L478.5 222.8L475.1 219.4Z" fill="#000080"/>
<path d="M486.1 215.6L489.5 219.0L486.1 222.4L482.7 219.0Z" fill="#000080"/>
<path d="M493.7 215.2L497.1 218.6L493.7 222.0L490.3 218.6Z" fill="#000080"/>
<path d="M501.3 214.9L504.7 218.3L501.3 221.7L497.9 218.3Z" fill="#000080"/>
<path d="M508.9 214.5L512.3 218.0L508.9 221.4L505.4 218.0Z" fill="#000080"/>
<path d="M516.4 214.2L519.9 217.7L516.4 221.1L513.0 217.7Z" fill="#000080"/>
<path d="M524.0 214.0L527.4 217.4L524.0 220.8L520.6 217.4Z" fill="#000080"/>
<path d="M531.6 213.7L535.0 217.1L531.6 220.5L528.2 217.1Z" fill="#000080"/>
</svg></body></html>
